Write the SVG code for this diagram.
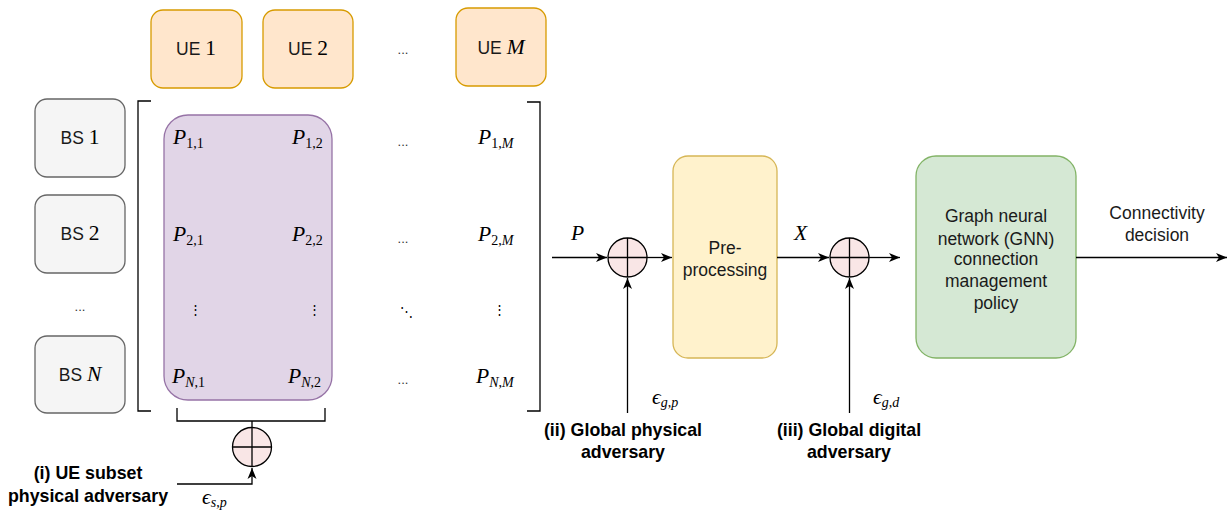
<svg xmlns="http://www.w3.org/2000/svg" width="1227" height="510" viewBox="0 0 1227 510">
<defs>
<marker id="arr" markerUnits="userSpaceOnUse" markerWidth="12" markerHeight="10" refX="11" refY="5" orient="auto">
<path d="M0,0.5 L11,5 L0,9.5 L3,5 Z" fill="#000"/>
</marker>
<style>
.ue{fill:#ffe6cc;stroke:#d79b00;stroke-width:1.3}
.bs{fill:#f5f5f5;stroke:#666;stroke-width:1.3}
.sans{font-family:"Liberation Sans",Arial,sans-serif;font-size:17.5px;fill:#1a1a1a}
.lbl{font-family:"Liberation Sans",Arial,sans-serif;font-size:17.5px;fill:#1a1a1a;text-anchor:middle}
.bold{font-family:"Liberation Sans",Arial,sans-serif;font-size:17.8px;font-weight:bold;fill:#000;text-anchor:middle}
.m{font-family:"Liberation Serif","DejaVu Serif",serif;font-size:21.5px;fill:#000}
.mi{font-style:italic}
.sub{font-size:14px}
.dots{font-family:"Liberation Sans",Arial,sans-serif;font-size:13px;fill:#333;text-anchor:middle}
.vd{font-family:"DejaVu Serif",serif;font-size:13px;fill:#000;text-anchor:middle}
.ln{fill:none;stroke:#000;stroke-width:1.3}
.sum{fill:#f9e6e6;stroke:#000;stroke-width:1.3}
</style>
</defs>

<g id="ue1"><rect class="ue" x="151" y="10" width="91" height="78" rx="12"/><text class="sans" x="196" y="55" text-anchor="middle">UE <tspan class="m" font-size="20">1</tspan></text></g>
<g id="ue2"><rect class="ue" x="263" y="10" width="90" height="78" rx="12"/><text class="sans" x="308" y="55" text-anchor="middle">UE <tspan class="m" font-size="20">2</tspan></text></g>
<text class="dots" x="403" y="54">...</text>
<g id="ueM"><rect class="ue" x="456" y="8" width="90" height="78" rx="12"/><text class="sans" x="501" y="54" text-anchor="middle">UE <tspan class="m mi" font-size="20">M</tspan></text></g>

<g id="bs1"><rect class="bs" x="35" y="99" width="90" height="78" rx="12"/><text class="sans" x="80" y="144" text-anchor="middle" fill="#333">BS <tspan class="m" font-size="20">1</tspan></text></g>
<g id="bs2"><rect class="bs" x="35" y="195" width="90" height="78" rx="12"/><text class="sans" x="80" y="240" text-anchor="middle" fill="#333">BS <tspan class="m" font-size="20">2</tspan></text></g>
<text class="dots" x="80" y="311">...</text>
<g id="bsN"><rect class="bs" x="35" y="336" width="90" height="77" rx="12"/><text class="sans" x="80" y="381" text-anchor="middle" fill="#333">BS <tspan class="m mi" font-size="20">N</tspan></text></g>

<g id="matrix">
<path class="ln" d="M151,101 H138 V411 H151"/>
<path class="ln" d="M527,102 H540 V411 H527" stroke="#333"/>
<rect x="164" y="115" width="168" height="285" rx="24" fill="#e1d5e7" stroke="#9673a6" stroke-width="1.3"/>
<text class="m" x="173" y="144"><tspan class="mi">P</tspan><tspan class="sub" dy="4">1,1</tspan></text>
<text class="m" x="292" y="144"><tspan class="mi">P</tspan><tspan class="sub" dy="4">1,2</tspan></text>
<text class="dots" x="403" y="146">...</text>
<text class="m" x="478" y="144"><tspan class="mi">P</tspan><tspan class="sub" dy="4">1,<tspan class="mi">M</tspan></tspan></text>
<text class="m" x="173" y="241"><tspan class="mi">P</tspan><tspan class="sub" dy="4">2,1</tspan></text>
<text class="m" x="292" y="241"><tspan class="mi">P</tspan><tspan class="sub" dy="4">2,2</tspan></text>
<text class="dots" x="403" y="243">...</text>
<text class="m" x="478" y="241"><tspan class="mi">P</tspan><tspan class="sub" dy="4">2,<tspan class="mi">M</tspan></tspan></text>
<text class="vd" x="195" y="314">⋮</text>
<text class="vd" x="314" y="314">⋮</text>
<text class="vd" x="406" y="316">⋱</text>
<text class="vd" x="499" y="314">⋮</text>
<text class="m" x="172" y="383"><tspan class="mi">P</tspan><tspan class="sub" dy="4"><tspan class="mi">N</tspan>,1</tspan></text>
<text class="m" x="288" y="383"><tspan class="mi">P</tspan><tspan class="sub" dy="4"><tspan class="mi">N</tspan>,2</tspan></text>
<text class="dots" x="403" y="384">...</text>
<text class="m" x="476" y="383"><tspan class="mi">P</tspan><tspan class="sub" dy="4"><tspan class="mi">N</tspan>,<tspan class="mi">M</tspan></tspan></text>
</g>

<g id="sum1"><circle class="sum" cx="252" cy="447" r="19.5"/><path class="ln" d="M232.5,447 H271.5 M252,427.5 V466.5"/></g>
<g id="sum2"><circle class="sum" cx="627.5" cy="257.5" r="19.5"/><path class="ln" d="M608,257.5 H647 M627.5,238 V277"/></g>
<g id="sum3"><circle class="sum" cx="849.5" cy="257.5" r="19.5"/><path class="ln" d="M830,257.5 H869 M849.5,238 V277"/></g>

<g id="preproc"><rect x="673" y="156" width="104" height="202" rx="15" fill="#fff2cc" stroke="#d6b656" stroke-width="1.3"/>
<text class="lbl" x="725" y="254">Pre-</text><text class="lbl" x="725" y="276">processing</text></g>

<g id="gnn"><rect x="916" y="156" width="160" height="202" rx="20" fill="#d5e8d4" stroke="#82b366" stroke-width="1.3"/>
<text class="lbl" x="996" y="222">Graph neural</text>
<text class="lbl" x="996" y="245">network (GNN)</text>
<text class="lbl" x="996" y="265">connection</text>
<text class="lbl" x="996" y="287">management</text>
<text class="lbl" x="996" y="309">policy</text></g>

<g id="connectors">
<path class="ln" d="M177,408 V421 H325 V408 M252,421 V427.5"/>
<path class="ln" d="M177,484 H252 V468" marker-end="url(#arr)"/>
<path class="ln" d="M552,257.5 H607" marker-end="url(#arr)"/>
<path class="ln" d="M647,257.5 H672" marker-end="url(#arr)"/>
<path class="ln" d="M777,257.5 H829" marker-end="url(#arr)"/>
<path class="ln" d="M869,257.5 H900" marker-end="url(#arr)"/>
<path class="ln" d="M1076,257.5 H1227" marker-end="url(#arr)"/>
<path class="ln" d="M627.5,413 V278" marker-end="url(#arr)" stroke="#333"/>
<path class="ln" d="M849.5,413 V278" marker-end="url(#arr)" stroke="#333"/>
</g>

<text class="m mi" x="571" y="240">P</text>
<text class="m mi" x="794" y="240">X</text>
<text class="lbl" x="1157" y="219">Connectivity</text>
<text class="lbl" x="1157" y="241">decision</text>

<text class="m" x="652" y="404" font-size="18"><tspan class="mi">ϵ</tspan><tspan class="sub" font-size="13" dy="3"><tspan class="mi">g</tspan>,<tspan class="mi">p</tspan></tspan></text>
<text class="m" x="873" y="404" font-size="18"><tspan class="mi">ϵ</tspan><tspan class="sub" font-size="13" dy="3"><tspan class="mi">g</tspan>,<tspan class="mi">d</tspan></tspan></text>
<text class="m" x="202" y="504" font-size="18"><tspan class="mi">ϵ</tspan><tspan class="sub" font-size="13" dy="3"><tspan class="mi">s</tspan>,<tspan class="mi">p</tspan></tspan></text>

<text class="bold" x="623" y="436">(ii) Global physical</text>
<text class="bold" x="623" y="458">adversary</text>
<text class="bold" x="849" y="436">(iii) Global digital</text>
<text class="bold" x="849" y="458">adversary</text>
<text class="bold" x="88" y="479">(i) UE subset</text>
<text class="bold" x="88" y="502">physical adversary</text>
</svg>
